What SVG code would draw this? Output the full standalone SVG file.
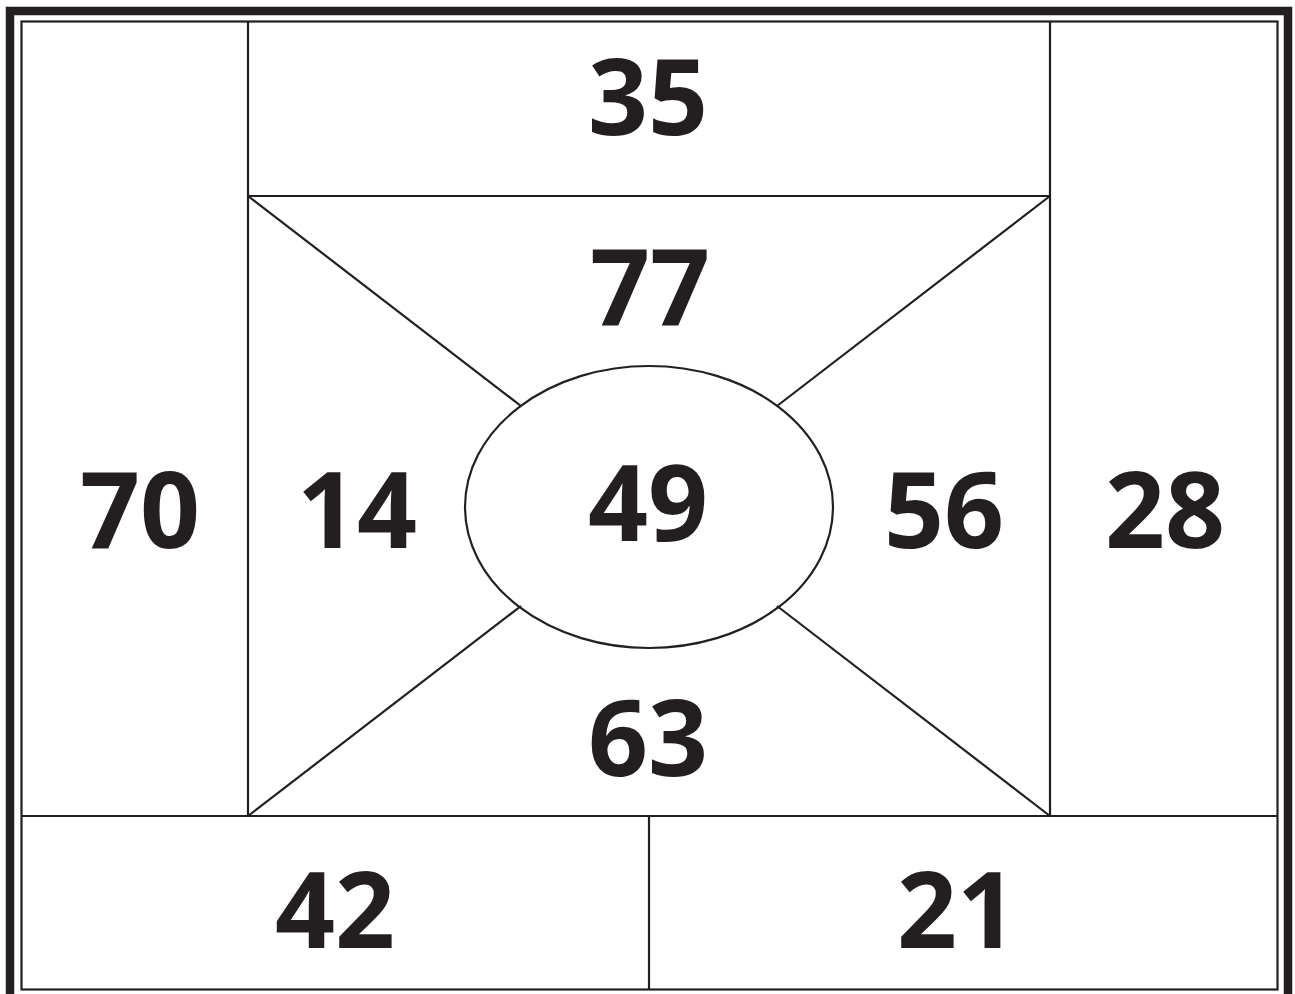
<svg xmlns="http://www.w3.org/2000/svg" width="1295" height="994" viewBox="0 0 1295 994">
<style>
.ln{stroke:#231f20;stroke-width:2.2;fill:none}
.num{font-family:"Open Sans","Liberation Sans",sans-serif;font-weight:700;font-size:105px;fill:#231f20;text-anchor:middle}
</style>
<rect width="1295" height="994" fill="#fff"/>
<g id="frame">
<rect x="10" y="11" width="1278" height="1000" fill="none" stroke="#231f20" stroke-width="8.5"/>
<rect x="21.5" y="21.5" width="1256" height="968" class="ln" stroke-width="2.6"/>
</g>
<g id="connectors">
<line class="ln" x1="248" y1="21" x2="248" y2="816"/>
<line class="ln" x1="1050" y1="21" x2="1050" y2="816"/>
<line class="ln" x1="248" y1="196" x2="1050" y2="196"/>
<line class="ln" x1="21" y1="816" x2="1278" y2="816"/>
<line class="ln" x1="649" y1="816" x2="649" y2="990"/>
<line class="ln" x1="248" y1="196" x2="521" y2="406"/>
<line class="ln" x1="1050" y1="196" x2="777" y2="406"/>
<line class="ln" x1="248" y1="816" x2="521" y2="606"/>
<line class="ln" x1="1050" y1="816" x2="777" y2="606"/>
</g>
<g id="n35"><text class="num" x="648" y="135">35</text></g>
<g id="n77"><text class="num" x="650" y="325">77</text></g>
<g id="n70"><text class="num" x="140" y="548">70</text></g>
<g id="n14"><text class="num" x="357" y="548">14</text></g>
<g id="n49"><ellipse class="ln" cx="649" cy="507" rx="184" ry="141"/><text class="num" x="648" y="541">49</text></g>
<g id="n56"><text class="num" x="944" y="548">56</text></g>
<g id="n28"><text class="num" x="1165" y="548">28</text></g>
<g id="n63"><text class="num" x="648" y="776">63</text></g>
<g id="n42"><text class="num" x="335" y="948">42</text></g>
<g id="n21"><text class="num" x="957" y="948">21</text></g>
</svg>
